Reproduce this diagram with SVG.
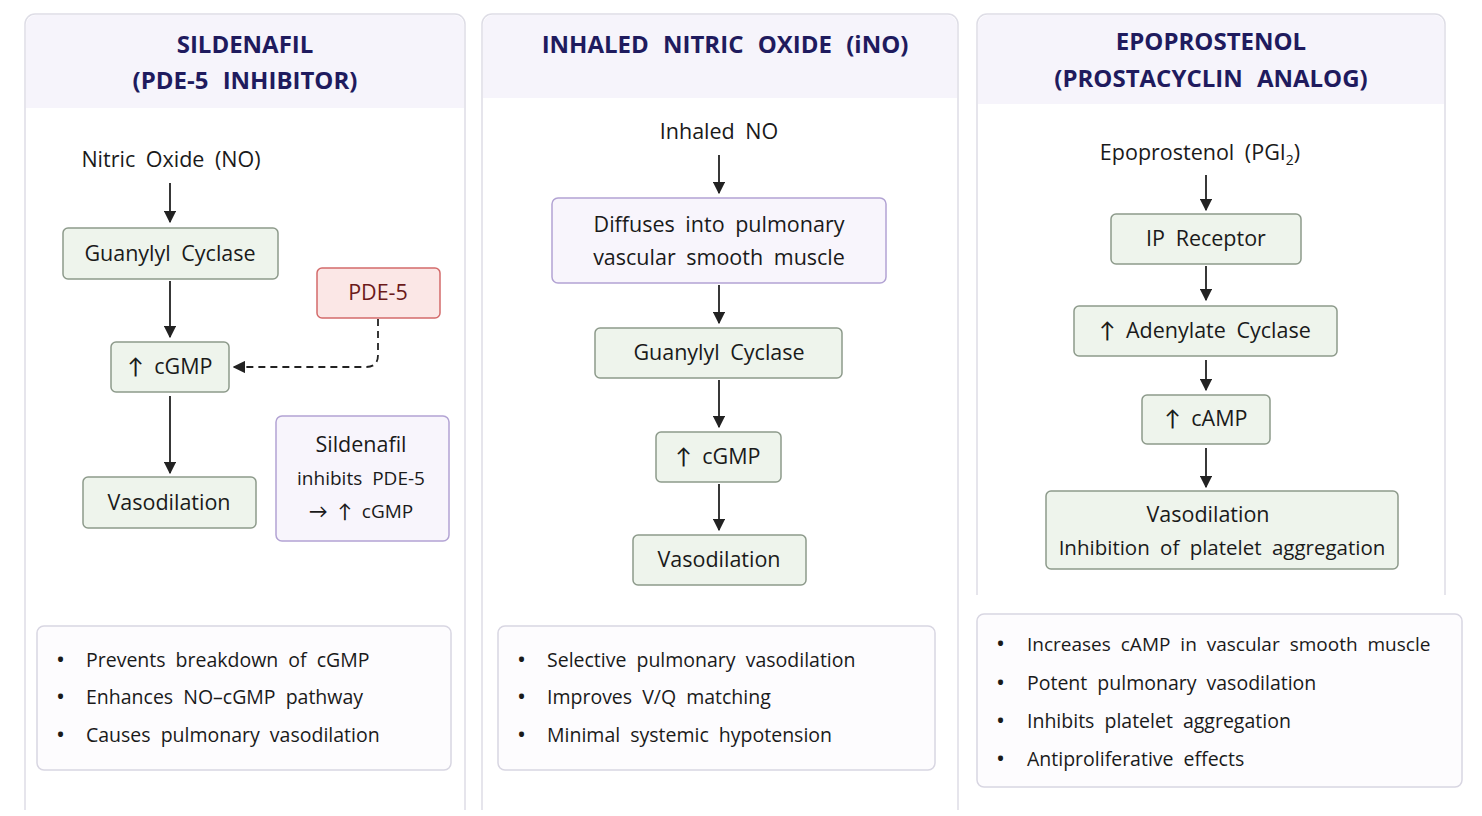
<svg xmlns="http://www.w3.org/2000/svg" width="1482" height="816" viewBox="0 0 1482 816">
<defs>
<marker id="ah" viewBox="0 0 10 10" refX="9" refY="5" markerWidth="7" markerHeight="7" orient="auto"><path d="M0,0L10,5L0,10z" fill="#222"/></marker>
</defs>
<style>
text{font-family:"Open Sans",Lato,"Liberation Sans",sans-serif;fill:#1a1a1a;word-spacing:5px;font-weight:500}
.t{font-size:24px;font-weight:bold;fill:#1f1b5e;text-anchor:middle;word-spacing:8px}
.n{font-size:21.5px;text-anchor:middle}
.b{font-size:19.5px}
.d{font-size:24px}
.g{fill:#eef4ec;stroke:#8d9a8b;stroke-width:1.5}
.p{fill:#f8f5fc;stroke:#b2a3d3;stroke-width:1.5}
.r{fill:#fbe7e6;stroke:#d36b6b;stroke-width:1.5}
.w{fill:#fdfcfe;stroke:#d8d6e2;stroke-width:1.5}
.c{stroke:#222;stroke-width:1.8;fill:none}
.hd{fill:#f6f4fb}
</style>
<rect width="1482" height="816" fill="#fff"/>
<g id="panels">
<path d="M25,810V24a10,10 0 0 1 10,-10H455a10,10 0 0 1 10,10V810" fill="#fff" stroke="#dedde6" stroke-width="1.5"/>
<path d="M26,108V25a10,10 0 0 1 10,-10H454a10,10 0 0 1 10,10V108z" class="hd"/>
<path d="M482,810V24a10,10 0 0 1 10,-10H948a10,10 0 0 1 10,10V810" fill="#fff" stroke="#dedde6" stroke-width="1.5"/>
<path d="M483,98V25a10,10 0 0 1 10,-10H947a10,10 0 0 1 10,10V98z" class="hd"/>
<path d="M977,595V24a10,10 0 0 1 10,-10H1435a10,10 0 0 1 10,10V595" fill="#fff" stroke="#dedde6" stroke-width="1.5"/>
<path d="M978,104V25a10,10 0 0 1 10,-10H1434a10,10 0 0 1 10,10V104z" class="hd"/>
<text class="t" x="245" y="53">SILDENAFIL</text>
<text class="t" x="245" y="89">(PDE-5 INHIBITOR)</text>
<text class="t" x="725" y="53">INHALED NITRIC OXIDE (iNO)</text>
<text class="t" x="1211" y="50">EPOPROSTENOL</text>
<text class="t" x="1211" y="87">(PROSTACYCLIN ANALOG)</text>
</g>
<g id="connectors">
<line class="c" x1="170" y1="183" x2="170" y2="222" marker-end="url(#ah)"/>
<line class="c" x1="170" y1="281" x2="170" y2="337" marker-end="url(#ah)"/>
<line class="c" x1="170" y1="396" x2="170" y2="473" marker-end="url(#ah)"/>
<path class="c" d="M378,319V355q0,12 -12,12H234" stroke-dasharray="7,5" marker-end="url(#ah)"/>
<line class="c" x1="719" y1="155" x2="719" y2="193" marker-end="url(#ah)"/>
<line class="c" x1="719" y1="285" x2="719" y2="323" marker-end="url(#ah)"/>
<line class="c" x1="719" y1="380" x2="719" y2="427" marker-end="url(#ah)"/>
<line class="c" x1="719" y1="484" x2="719" y2="530" marker-end="url(#ah)"/>
<line class="c" x1="1206" y1="175" x2="1206" y2="210" marker-end="url(#ah)"/>
<line class="c" x1="1206" y1="266" x2="1206" y2="300" marker-end="url(#ah)"/>
<line class="c" x1="1206" y1="360" x2="1206" y2="390" marker-end="url(#ah)"/>
<line class="c" x1="1206" y1="448" x2="1206" y2="487" marker-end="url(#ah)"/>
</g>
<g id="n-no"><text class="n" x="171" y="167">Nitric Oxide (NO)</text></g>
<g id="n-gc1"><rect class="g" x="63" y="228" width="215" height="51" rx="5"/><text class="n" x="170" y="261">Guanylyl Cyclase</text></g>
<g id="n-cgmp1"><rect class="g" x="111" y="342" width="118" height="50" rx="5"/><text class="n" x="170" y="374">↑ cGMP</text></g>
<g id="n-vaso1"><rect class="g" x="83" y="477" width="173" height="51" rx="5"/><text class="n" x="169" y="510">Vasodilation</text></g>
<g id="n-pde5"><rect class="r" x="317" y="268" width="123" height="50" rx="5"/><text class="n" x="378" y="300" style="fill:#6b1a1a">PDE-5</text></g>
<g id="n-note"><rect class="p" x="276" y="416" width="173" height="125" rx="6"/>
<text class="n" x="361" y="452">Sildenafil</text><text class="n" x="361" y="485" style="font-size:19px">inhibits PDE-5</text><text class="n" x="361" y="518" style="font-size:19px">→ ↑ cGMP</text></g>
<g id="n-list1"><rect class="w" x="37" y="626" width="414" height="144" rx="7"/>
<g class="b"><text class="d" x="56" y="668">•</text><text x="86" y="667">Prevents breakdown of cGMP</text>
<text class="d" x="56" y="705">•</text><text x="86" y="704">Enhances NO–cGMP pathway</text>
<text class="d" x="56" y="743">•</text><text x="86" y="742">Causes pulmonary vasodilation</text></g></g>
<g id="n-ino"><text class="n" x="719" y="139">Inhaled NO</text></g>
<g id="n-diff"><rect class="p" x="552" y="198" width="334" height="85" rx="6"/><text class="n" x="719" y="232">Diffuses into pulmonary</text><text class="n" x="719" y="265">vascular smooth muscle</text></g>
<g id="n-gc2"><rect class="g" x="595" y="328" width="247" height="50" rx="5"/><text class="n" x="719" y="360">Guanylyl Cyclase</text></g>
<g id="n-cgmp2"><rect class="g" x="656" y="432" width="125" height="50" rx="5"/><text class="n" x="718" y="464">↑ cGMP</text></g>
<g id="n-vaso2"><rect class="g" x="633" y="535" width="173" height="50" rx="5"/><text class="n" x="719" y="567">Vasodilation</text></g>
<g id="n-list2"><rect class="w" x="498" y="626" width="437" height="144" rx="7"/>
<g class="b"><text class="d" x="517" y="668">•</text><text x="547" y="667">Selective pulmonary vasodilation</text>
<text class="d" x="517" y="705">•</text><text x="547" y="704">Improves V/Q matching</text>
<text class="d" x="517" y="743">•</text><text x="547" y="742">Minimal systemic hypotension</text></g></g>
<g id="n-epo"><text class="n" x="1200" y="160">Epoprostenol (PGI<tspan dy="5" font-size="14">2</tspan><tspan dy="-5">)</tspan></text></g>
<g id="n-ip"><rect class="g" x="1111" y="214" width="190" height="50" rx="5"/><text class="n" x="1206" y="246">IP Receptor</text></g>
<g id="n-ac"><rect class="g" x="1074" y="306" width="263" height="50" rx="5"/><text class="n" x="1205" y="338">↑ Adenylate Cyclase</text></g>
<g id="n-camp"><rect class="g" x="1142" y="395" width="128" height="49" rx="5"/><text class="n" x="1206" y="426">↑ cAMP</text></g>
<g id="n-vaso3"><rect class="g" x="1046" y="491" width="352" height="78" rx="5"/><text class="n" x="1208" y="522">Vasodilation</text><text class="n" x="1222" y="555" style="font-size:20.5px">Inhibition of platelet aggregation</text></g>
<g id="n-list3"><rect class="w" x="977" y="614" width="485" height="173" rx="7"/>
<g class="b"><text class="d" x="996" y="652">•</text><text x="1027" y="651" style="font-size:19px">Increases cAMP in vascular smooth muscle</text>
<text class="d" x="996" y="691">•</text><text x="1027" y="690">Potent pulmonary vasodilation</text>
<text class="d" x="996" y="729">•</text><text x="1027" y="728">Inhibits platelet aggregation</text>
<text class="d" x="996" y="767">•</text><text x="1027" y="766">Antiproliferative effects</text></g></g>
</svg>
